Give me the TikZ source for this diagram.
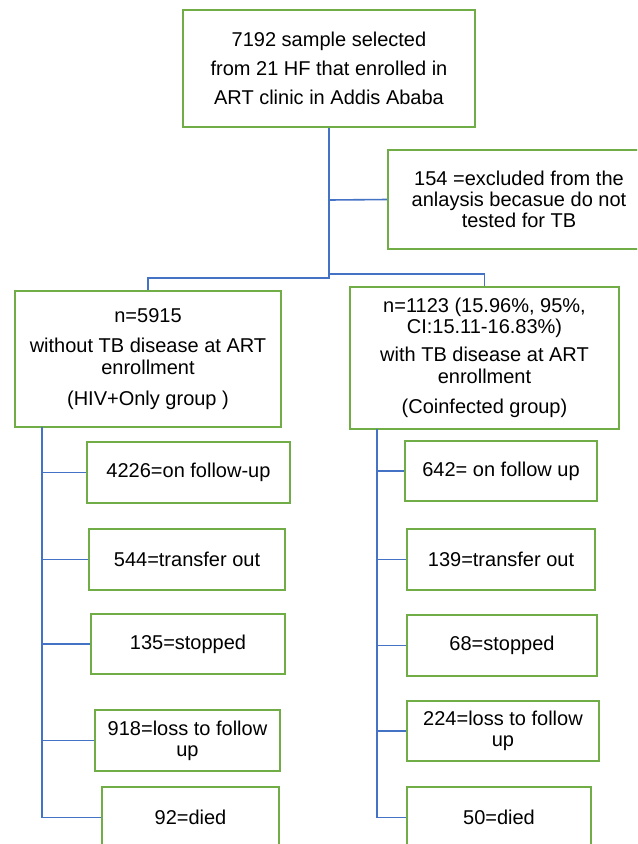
\documentclass[tikz,border=0pt]{standalone}
\usepackage{fontspec}
\setmainfont{Liberation Sans}
\definecolor{boxgreen}{RGB}{112,173,71}
\definecolor{lineblue}{RGB}{68,114,196}
\begin{document}
\begin{tikzpicture}[x=0.75pt,y=-0.75pt,
  box/.style={draw=boxgreen,line width=1.5pt,inner sep=0pt,align=center,
    font=\fontsize{15}{16}\selectfont},
  link/.style={draw=lineblue,line width=1.2pt}]
\useasboundingbox (0,0) rectangle (637,844);
\clip (0,0) rectangle (637,844);
\fill[white] (0,0) rectangle (637,844);
% main boxes
\node[box,minimum width=292*0.75pt,minimum height=117*0.75pt,font=\fontsize{15}{22}\selectfont] (top) at (329,68.5)
  {7192 sample selected\\from 21 HF that enrolled in\\ART clinic in Addis Ababa};
\node[box,minimum width=262*0.75pt,minimum height=99*0.75pt] (excl) at (519,199.5)
  {154 =excluded from the\\anlaysis becasue do not\\tested for TB};
\node[box,minimum width=266*0.75pt,minimum height=136*0.75pt] (left) at (148,359)
  {n=5915\\[7pt]without TB disease at ART\\enrollment\\[7.5pt](HIV+Only group )};
\node[box,minimum width=269*0.75pt,minimum height=142*0.75pt] (right) at (484.5,358)
  {n=1123 (15.96\%, 95\%,\\CI:15.11-16.83\%)\\[5pt]with TB disease at ART\\enrollment\\[7pt](Coinfected group)};
% left children
\node[box,minimum width=203*0.75pt,minimum height=61*0.75pt] (L1) at (188.5,472.5) {4226=on follow-up};
\node[box,minimum width=196*0.75pt,minimum height=61*0.75pt] (L2) at (187,559.5) {544=transfer out};
\node[box,minimum width=194*0.75pt,minimum height=60*0.75pt] (L3) at (188,644) {135=stopped};
\node[box,minimum width=185*0.75pt,minimum height=61*0.75pt] (L4) at (187.5,740.5) {918=loss to follow\\up};
\node[box,minimum width=177*0.75pt,minimum height=61*0.75pt] (L5) at (190.5,817.5) {92=died};
% right children
\node[box,minimum width=192*0.75pt,minimum height=60*0.75pt] (R1) at (501,471) {642= on follow up};
\node[box,minimum width=188*0.75pt,minimum height=61*0.75pt] (R2) at (501,559.5) {139=transfer out};
\node[box,minimum width=190*0.75pt,minimum height=61*0.75pt] (R3) at (502,645.5) {68=stopped};
\node[box,minimum width=192*0.75pt,minimum height=60*0.75pt] (R4) at (503,731) {224=loss to follow\\up};
\node[box,minimum width=184*0.75pt,minimum height=61*0.75pt] (R5) at (499,817.5) {50=died};
% junctions
\coordinate (jx) at (329,200);
\coordinate (j1) at (329,278);
\coordinate (j2) at (329,274);
\coordinate (lt) at (42,427);
\coordinate (rt) at (377,429);
% connectors
\draw[link] (top.south) -- (j1) -| (left.north);
\draw[link] (j2) -| (right.north);
\draw[link] (jx) -- (excl.west);
\draw[link] (lt) |- (L5.west);
\foreach \n in {L1,L2,L3,L4} \draw[link] (lt |- \n.west) -- (\n.west);
\draw[link] (rt) |- (R5.west);
\foreach \n in {R1,R2,R3,R4} \draw[link] (rt |- \n.west) -- (\n.west);
\end{tikzpicture}
\end{document}
